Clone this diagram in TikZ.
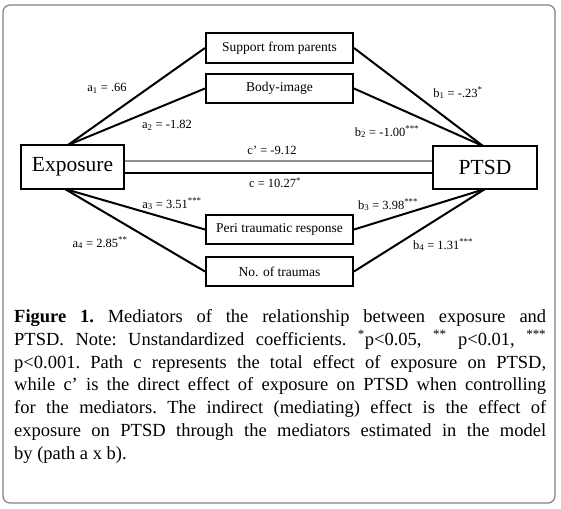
\documentclass[tikz,border=0pt]{standalone}
\usepackage{fontspec}
\setmainfont{Liberation Serif}
\usetikzlibrary{calc}
\definecolor{framegray}{HTML}{808080}
\definecolor{linegray}{HTML}{909090}
\tikzset{
  varbox/.style={draw=black, line width=2pt, fill=white, inner sep=0pt, font=\fontsize{13.5}{15}\selectfont},
  bigbox/.style={draw=black, line width=2.2pt, fill=white, inner sep=0pt, font=\fontsize{21.5}{24}\selectfont},
  conn/.style={draw=black, line width=2pt},
  coef/.style={inner sep=0pt, font=\fontsize{12.5}{14}\selectfont}
}
\begin{document}
\begin{tikzpicture}[x=1pt,y=-1pt]
\useasboundingbox (0,0) rectangle (561,508);
\draw[framegray, line width=1.2pt, rounded corners=7pt] (3,5) rectangle (555,503);

\coordinate (expT) at (68,145);
\coordinate (expB) at (65,189);
\coordinate (ptT) at (483,146);
\coordinate (ptB) at (485,189);

\node[varbox, minimum width=147pt, minimum height=30pt] (sup) at (279.5,48) {Support from parents};
\node[varbox, minimum width=147pt, minimum height=29pt] (body) at (279.5,88.5) {Body-image};
\node[varbox, minimum width=147pt, minimum height=29pt] (peri) at (279.5,229.5) {Peri traumatic response};
\node[varbox, minimum width=147pt, minimum height=29pt] (num) at (279.5,271.5) {No. of traumas};
\node[bigbox, minimum width=103pt, minimum height=44pt] (exp) at (72.5,167) {Exposure};
\node[bigbox, minimum width=104pt, minimum height=43pt] (ptsd) at (485,167.5) {PTSD};

\draw[conn] (expT) -- (sup.west);
\draw[conn] (expT) -- (body.west);
\draw[conn] (expB) -- (peri.west);
\draw[conn] (expB) -- (num.west);
\draw[conn] (sup.east) -- (ptT);
\draw[conn] (body.east) -- (ptT);
\draw[conn] (peri.east) -- (ptB);
\draw[conn] (num.east) -- (ptB);
\draw[linegray, line width=2pt] (exp.east |- 0,161) -- (ptsd.west |- 0,161);
\draw[black, line width=2pt] (exp.east |- 0,173) -- (ptsd.west |- 0,173);

\node[coef] (la1) at (107,88) {a\textsubscript{1} = .66};
\node[coef] (la2) at (167,125) {a\textsubscript{2} = -1.82};
\node[coef] (lb1) at (458,93) {b\textsubscript{1} = -.23\textsuperscript{*}};
\node[coef] (lb2) at (387,132) {b\textsubscript{2} = -1.00\textsuperscript{***}};
\node[coef] (lcp) at (272,150) {c' = -9.12};
\node[coef] (lc) at (275,183) {c = 10.27\textsuperscript{*}};
\node[coef] (la3) at (172,204) {a\textsubscript{3} = 3.51\textsuperscript{***}};
\node[coef] (lb3) at (388,205) {b\textsubscript{3} = 3.98\textsuperscript{***}};
\node[coef] (la4) at (100,243) {a\textsubscript{4} = 2.85\textsuperscript{**}};
\node[coef] (lb4) at (443,245) {b\textsubscript{4} = 1.31\textsuperscript{***}};

\node[anchor=north west, inner sep=0pt] (cap) at (14,309) {\parbox{532pt}{\fontsize{18.5}{22.9}\selectfont\frenchspacing\setlength{\parindent}{0pt}\emergencystretch=3em
\textbf{Figure 1.} Mediators of the relationship between exposure and\linebreak
PTSD. Note: Unstandardized coefficients. \textsuperscript{*}p<0.05, \textsuperscript{**} p<0.01, \textsuperscript{***}\linebreak
p<0.001. Path c represents the total effect of exposure on PTSD,\linebreak
while c’ is the direct effect of exposure on PTSD when controlling\linebreak
for the mediators. The indirect (mediating) effect is the effect of\linebreak
exposure on PTSD through the mediators estimated in the model\linebreak
by (path a x b).}};
\end{tikzpicture}
\end{document}
